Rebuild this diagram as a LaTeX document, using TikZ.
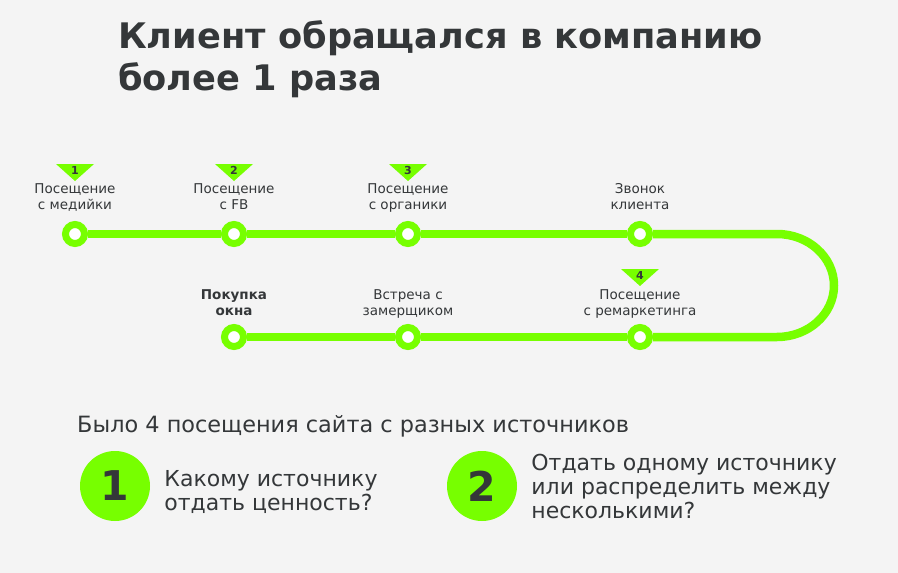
\documentclass[tikz,border=0pt]{standalone}
\usepackage{fontspec}
\setmainfont{DejaVu Sans}
\usetikzlibrary{positioning}
\definecolor{trackgreen}{RGB}{119,255,0}
\definecolor{ink}{RGB}{52,55,57}
\definecolor{paper}{RGB}{244,244,244}

\begin{document}
\begin{tikzpicture}[
    x=1pt, y=-1pt,
    every node/.style={text=ink, inner sep=0pt},
    stop/.style={circle, draw=trackgreen, fill=white, line width=7pt, minimum size=19pt},
    track/.style={draw=trackgreen, line width=8.5pt},
    lbl/.style={font=\fontsize{13.5}{16}\selectfont, align=center, text depth=3pt},
    num/.style={font=\fontsize{11}{12}\selectfont\bfseries},
    bigdot/.style={circle, fill=trackgreen, minimum size=70pt, font=\fontsize{41}{41}\selectfont\bfseries},
    question/.style={font=\fontsize{22}{24}\selectfont, align=left}
]
\fill[paper] (0,0) rectangle (898,573);
\useasboundingbox (0,0) rectangle (898,573);

% title
\node[anchor=base west, font=\fontsize{35.2}{42}\selectfont\bfseries, align=left] (title) at (118,90)
    {Клиент обращался в компанию\\более 1 раза};

% stops
\node[stop] (s1) at (75,234) {};
\node[stop] (s2) at (234,234) {};
\node[stop] (s3) at (408,234) {};
\node[stop] (s4) at (640,234) {};
\node[stop] (s5) at (640,337) {};
\node[stop] (s6) at (408,337) {};
\node[stop] (s7) at (234,337) {};
\coordinate (bend) at (777,234);

\draw[track] (s1) -- (s2);
\draw[track] (s2) -- (s3);
\draw[track] (s3) -- (s4);
\draw[track] (s4) -- (bend) arc[start angle=-90, end angle=90, x radius=57, y radius=51.5] -- (s5);
\draw[track] (s5) -- (s6);
\draw[track] (s6) -- (s7);

% labels
\node[lbl, above=8pt of s1] (l1) {Посещение\\с медийки};
\node[lbl, above=8pt of s2] (l2) {Посещение\\с FB};
\node[lbl, above=8pt of s3] (l3) {Посещение\\с органики};
\node[lbl, above=8pt of s4] (l4) {Звонок\\клиента};
\node[lbl, above=5pt of s5] (l5) {Посещение\\с ремаркетинга};
\node[lbl, above=5pt of s6] (l6) {Встреча с\\замерщиком};
\node[lbl, font=\fontsize{13.5}{16}\selectfont\bfseries, above=5pt of s7] (l7) {Покупка\\окна};

% visit markers
\fill[trackgreen] (56,164) -- (94,164) -- (75,181) -- cycle;
\node[num] (m1) at (75,170) {1};
\fill[trackgreen] (215,164) -- (253,164) -- (234,181) -- cycle;
\node[num] (m2) at (234,170) {2};
\fill[trackgreen] (389,164) -- (427,164) -- (408,181) -- cycle;
\node[num] (m3) at (408,170) {3};
\fill[trackgreen] (621,269) -- (659,269) -- (640,286) -- cycle;
\node[num] (m4) at (640,275) {4};

% summary
\node[anchor=base west, font=\fontsize{22.4}{26}\selectfont] (summary) at (77,432)
    {Было 4 посещения сайта с разных источников};

\node[bigdot] (c1) at (115,486) {1};
\node[question, right=14pt of c1, yshift=-6pt] (q1) {Какому источнику\\отдать ценность?};
\node[bigdot] (c2) at (482,486) {2};
\node[question, right=14pt of c2] (q2) {Отдать одному источнику\\или распределить между\\несколькими?};

\end{tikzpicture}
\end{document}
